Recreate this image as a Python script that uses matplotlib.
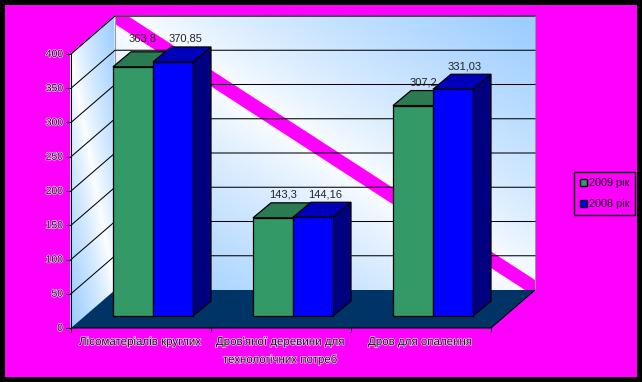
import numpy as np
import matplotlib
matplotlib.use("Agg")
import matplotlib.pyplot as plt
from matplotlib.patches import Polygon, Rectangle
from matplotlib.colors import LinearSegmentedColormap
import matplotlib.patheffects as pe

categories = ["Лісоматеріалів круглих", "Дров'яної деревини для\nтехнологічних потреб", "Дров для опалення"]
series_names = ["2009 рік", "2008 рік"]
values_2009 = [363.8, 143.3, 307.2]
values_2008 = [370.85, 144.16, 331.03]
value_labels_2009 = ["363,8", "143,3", "307,2"]
value_labels_2008 = ["370,85", "144,16", "331,03"]
y_ticks = [0, 50, 100, 150, 200, 250, 300, 350, 400]

plt.rcParams["font.family"] = "Liberation Sans"
W, H = 642, 382
X0, Y0 = 71, 328          # pixel of origin on the front plane
PX_CAT, PX_VAL = 140.0, 274 / 400
DX, DY = 44 / PX_CAT, 38 / PX_VAL   # wall depth in data units
MAG = "#FF00FF"
fig = plt.figure(figsize=(W / 100, H / 100), dpi=100, facecolor=MAG)
ax = fig.add_axes([0, 0, 1, 1])
ax.set_xlim(-X0 / PX_CAT, (W - X0) / PX_CAT)
ax.set_ylim(-(H - Y0) / PX_VAL, Y0 / PX_VAL)
ax.axis("off")

cmap = LinearSegmentedColormap.from_list("g", ["#FFFFFF", "#99CCFF"])
n = len(categories)
ymax = y_ticks[-1]
LW = 0.75
halo = [pe.withStroke(linewidth=0.9, foreground="#FFD8FF")]

def wall_grid(skew):
    u, v = np.meshgrid(np.linspace(0, 1, 220), np.linspace(0, 1, 160))
    t = np.abs(u + v - 1) ** 0.8
    if skew:
        return u * DX, v * ymax + u * DY, t
    return DX + u * n, v * ymax + DY, t

# walls
for skew in (True, False):
    xx, yy, tt = wall_grid(skew)
    ax.pcolormesh(xx, yy, tt, cmap=cmap, vmin=0, vmax=1, shading="gouraud", zorder=1)

# diagonal stripe on back wall (edges run from the top-left to the bottom-right corner)
top, bot = ymax + DY, DY
ax.add_patch(Polygon([(DX, top), (DX + 13 / PX_CAT, top), (DX + n, bot + 10 / PX_VAL), (DX + n, bot),
                      (DX + n - 10 / PX_CAT, bot), (DX, top - 8 / PX_VAL)],
                     closed=True, fc=MAG, ec="none", zorder=1.5))

# outline of back wall
ax.plot([DX, DX, n + DX, n + DX], [DY, ymax + DY, ymax + DY, DY], color="#999999", lw=LW, zorder=1.6)
ax.plot([0, DX], [ymax, ymax + DY], color="#999999", lw=LW, zorder=1.6)

# gridlines
for t in y_ticks[1:]:
    ax.plot([0, DX, n + DX], [t, t + DY, t + DY], color="black", lw=LW, zorder=2)

# floor
ax.add_patch(Polygon([(0, 0), (n, 0), (n + DX, DY), (DX, DY)], fc="#003366", ec="none", zorder=3))
ax.plot([0, n, n + DX], [0, 0, DY], color="black", lw=LW, zorder=3.1)

# axes lines and ticks
ax.plot([0, 0], [0, ymax], color="black", lw=LW, zorder=3.2)
for t in y_ticks:
    ax.plot([-5 / PX_CAT, 0], [t, t], color="black", lw=LW, zorder=3.2)
    ax.text(-8 / PX_CAT, t, str(t), ha="right", va="center", fontsize=7.5, color="#111111",
            path_effects=halo, zorder=5)
for i in range(n + 1):
    ax.plot([i, i], [0, -4 / PX_VAL], color="black", lw=LW, zorder=3.2)

# bars
BW = 40 / PX_CAT
OX = 12 / PX_CAT
BY = 12 / PX_VAL
BDX, BDY = 18 / PX_CAT, 15 / PX_VAL
series = [(values_2009, value_labels_2009, "#339966", "#2A7A52", "#297A52", -1, 1),
          (values_2008, value_labels_2008, "#0000FF", "#0000BB", "#000080", 0, 3)]
for i in range(n):
    for vals, labs, front, top_c, side, off, nudge in series:
        x = i + 0.5 + OX + off * BW
        v = vals[i]
        b = BY
        kw = dict(ec="black", lw=0.9, joinstyle="miter", zorder=4)
        ax.add_patch(Polygon([(x + BW, b), (x + BW + BDX, b + BDY), (x + BW + BDX, b + v + BDY), (x + BW, b + v)], fc=side, **kw))
        ax.add_patch(Polygon([(x, b + v), (x + BDX, b + v + BDY), (x + BW + BDX, b + v + BDY), (x + BW, b + v)], fc=top_c, **kw))
        ax.add_patch(Rectangle((x, b), BW, v, fc=front, **kw))
        # the first green label sits level with its blue neighbour, above the bar
        lift = 8 if (i == 0 and off == -1) else 3
        ax.text(x + BW / 2 + BDX / 2 + nudge / PX_CAT, b + v + BDY + lift / PX_VAL, labs[i], ha="center", va="bottom",
                fontsize=8, color="#222222", zorder=6)

# category labels
for i, c in enumerate(categories):
    ax.text(i + 0.5 - 1 / PX_CAT, -8 / PX_VAL, c, ha="center", va="top", fontsize=8.3, color="#111111", linespacing=1.5,
            path_effects=halo, zorder=5)

# legend
leg = fig.legend(handles=[Rectangle((0, 0), 1, 1, fc="#339966", ec="black"),
                          Rectangle((0, 0), 1, 1, fc="#0000FF", ec="black")],
                 labels=series_names, loc="upper left",
                 bbox_to_anchor=(574 / W, 1 - 172 / H), borderaxespad=0, frameon=True,
                 fancybox=False, edgecolor="black", facecolor=MAG, framealpha=1,
                 fontsize=7.8, handlelength=0.62, handleheight=0.62, handletextpad=0.2,
                 labelspacing=1.05, borderpad=0.55, labelcolor="#111111")
leg.get_frame().set_linewidth(1)

# black outer border
fig.add_artist(Rectangle((0, 0), 1, 1, transform=fig.transFigure, fc="none", ec="black", lw=7.2, zorder=10))

fig.savefig("out.png", dpi=100, facecolor=MAG)
